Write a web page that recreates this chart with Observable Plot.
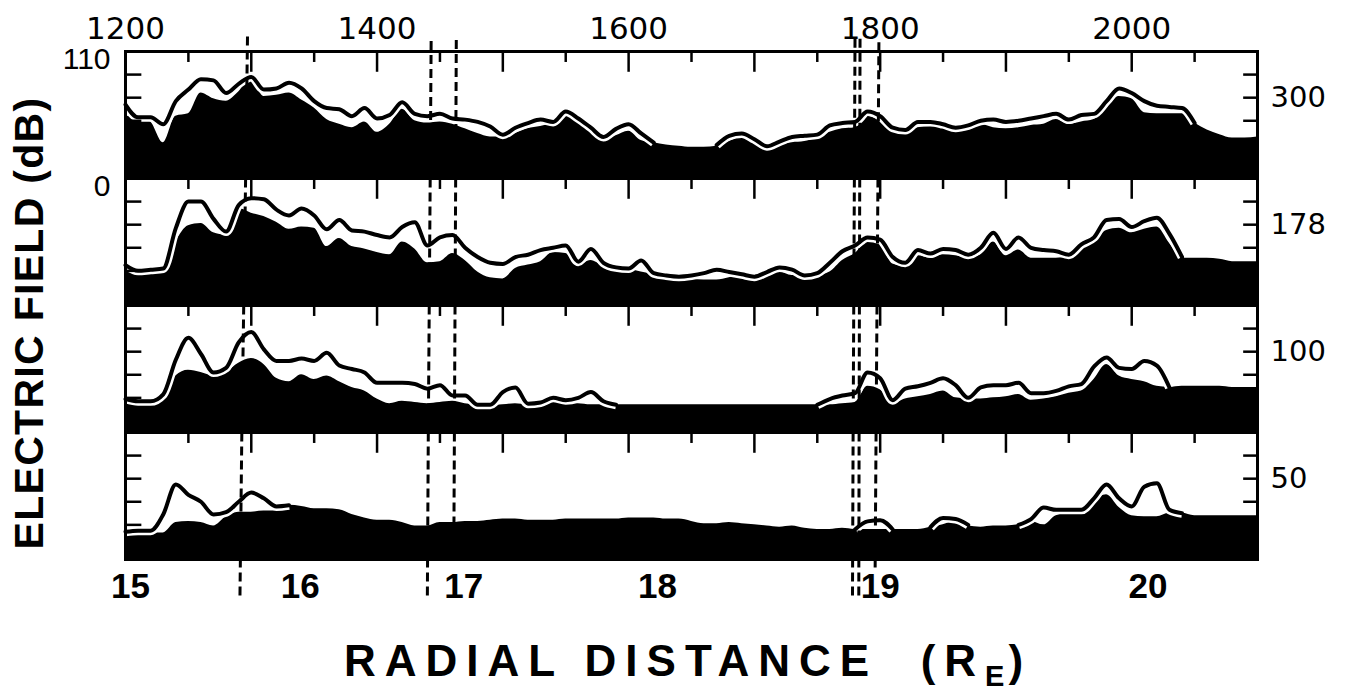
<!DOCTYPE html>
<html><head><meta charset="utf-8">
<script src="https://cdn.jsdelivr.net/npm/d3@7"></script>
<script src="https://cdn.jsdelivr.net/npm/@observablehq/plot@0.6"></script>
<style>
html,body{margin:0;padding:0;background:#fff;}
#wrap{position:relative;width:1345px;height:695px;overflow:hidden;background:#fff;}
#chart{position:absolute;left:0;top:0;}
#ytitle{position:absolute;left:29px;top:323px;transform:translate(-50%,-50%) rotate(-90deg);font:bold 41px "Liberation Sans",Arial,sans-serif;letter-spacing:1.3px;white-space:nowrap;}
#xtitle{position:absolute;left:688px;top:664px;transform:translate(-50%,-50%);font:bold 44px "Liberation Sans",Arial,sans-serif;white-space:nowrap;letter-spacing:9px;}
#xtitle sub{font-size:29px;letter-spacing:4px;vertical-align:-10px;}
</style></head>
<body><div id="wrap"><div id="chart"></div><div id="ytitle">ELECTRIC FIELD (dB)</div><div id="xtitle">RADIAL DISTANCE &nbsp;(R<sub>E</sub>)</div></div>
<script>
// time grid (top axis units)
const times = [1200,1210,1220,1230,1240,1250,1260,1270,1280,1290,1300,1310,1320,1330,1340,1350,1360,1370,1380,1390,
1400,1410,1420,1430,1440,1450,1460,1470,1480,1490,1500,1510,1520,1530,1540,1550,1560,1570,1580,1590,
1600,1610,1620,1630,1640,1650,1660,1670,1680,1690,1700,1710,1720,1730,1740,1750,1760,1770,1780,1790,
1800,1810,1820,1830,1840,1850,1860,1870,1880,1890,1900,1910,1920,1930,1940,1950,1960,1970,1980,1990,
2000,2010,2020,2030,2040,2050,2060,2070,2080,2090,2100];

const panels = ["300","178","100","50"];

// 300 Hz
const fill300 = [54,53,49,31,54,56,74,69,67,75,87,71,72,74,68,61,51,47,44,49,
40,47,60,50,48,49,47,43,39,36,36,39,43,45,48,54,49,41,33,37,
41,33,31,29,28,27,27,28,32,36,32,27,29,31,32,35,40,43,44,54,
50,43,40,44,45,44,42,43,47,44,43,44,46,47,51,47,49,51,61,71,
69,57,56,56,56,48,42,38,35,35,36];
const peak300 = [64,53,53,47,67,77,86,85,74,82,88,77,78,83,78,67,61,60,54,61,
52,55,66,56,54,56,52,51,49,45,38,44,48,51,49,58,52,44,36,43,
47,39,31,null,null,null,null,29,37,39,34,28,32,36,37,38,46,48,49,58,
54,44,42,49,49,47,44,46,50,51,49,50,52,54,56,51,55,56,67,78,
74,67,63,62,61,48,null,null,null,null,null];

// 178 Hz
const fill178 = [31,29,31,31,55,69,71,63,61,84,80,77,72,66,68,67,51,58,51,49,
46,44,55,49,37,38,45,39,29,24,23,32,35,38,46,45,35,39,34,31,
31,29,27,25,25,23,22,22,24,26,23,26,29,26,26,26,29,39,45,55,
53,36,34,43,41,44,43,41,44,55,43,48,41,41,41,42,50,55,65,67,
63,66,68,54,41,41,41,40,38,38,38];
const peak178 = [35,30,31,32,67,90,90,75,64,87,93,92,83,78,84,78,66,74,65,64,
61,59,68,72,52,59,61,50,42,37,36,42,44,48,50,52,38,49,37,33,
32,39,28,26,25,26,28,31,29,27,25,29,33,31,26,28,37,47,52,59,
57,42,37,48,45,49,48,44,50,63,49,59,50,48,47,44,53,59,74,75,
68,73,76,62,42,null,null,null,null,null,null];

// 100 Hz
const fill100 = [27,26,26,30,49,54,52,49,52,60,64,59,47,44,50,46,49,44,39,36,
29,25,27,26,25,26,27,25,24,23,24,25,24,24,27,25,25,24,24,24,
24,24,24,24,24,24,24,24,24,24,24,24,24,24,24,24,24,25,26,40,
37,25,29,31,33,36,30,29,29,30,31,33,28,29,31,34,36,46,59,49,
46,44,40,39,40,40,40,40,39,39,39];
const peak100 = [29,27,27,33,63,82,68,52,56,78,87,72,62,62,64,62,69,58,55,52,
43,43,43,42,38,41,32,32,24,24,35,39,25,26,30,28,30,35,27,24,
null,null,null,null,null,null,null,null,null,null,null,null,null,null,null,24,29,32,34,52,
47,28,38,40,43,47,41,30,39,41,41,43,34,34,36,40,42,57,65,56,
55,62,58,39,null,null,null,null,null,null,null];

// 50 Hz
const fill50 = [24,23,23,23,32,33,32,29,37,41,41,42,42,47,46,44,44,43,39,36,
34,34,32,29,29,32,32,33,33,34,35,35,34,34,34,35,35,35,35,35,
36,36,36,35,35,33,31,31,32,31,30,29,28,29,27,26,26,27,26,26,
26,26,26,26,28,30,34,29,28,29,29,30,33,30,38,40,41,51,56,45,
38,37,37,40,40,38,38,38,38,38,38];
const peak50 = [24,25,25,39,65,56,50,39,41,50,58,53,46,47,null,null,null,null,null,null,
null,null,null,null,null,null,null,null,null,null,null,null,null,null,null,null,null,null,null,null,
null,null,null,null,null,null,null,null,null,null,null,null,null,null,null,null,null,null,26,33,
34,26,null,null,28,36,35,30,null,null,null,30,35,45,43,43,43,53,65,53,
46,63,66,43,40,null,null,null,null,null,null];

const topLabels = [1200,1400,1600,1800,2000];
const frameTicks = [1250,1300,1350,1400,1450,1500,1550,1600,1650,1700,1750,1800,1850,1900,1950,2000,2050];
const distanceLabels = ["15","16","17","18","19","20"];
const distanceTimes = [1204,1339,1469,1623,1800,2013];
const dBTicks = [30,50,70,90];
const yLabels = [110, 0];
const dashTop = [1297,1443,1463,1780,1784,1799];
const dashBottom = [1291,1440,1461,1778,1783,1796];

const fills = [fill300, fill178, fill100, fill50];
const peaks = [peak300, peak178, peak100, peak50];
const rows = panels.flatMap((p, k) => times.map((t, i) => ({panel: p, t, fill: fills[k][i], peak: peaks[k][i]})));
const tickRows = panels.flatMap(p => frameTicks.map(t => ({panel: p, t, len: t % 100 === 0 ? 18 : 9.5})));
const sideRows = panels.flatMap(p => dBTicks.map(v => ({panel: p, v})));
const dashExtTop = [13, 9, 10, 11, 11, 8];
const dashExtBottom = [32, 32, 0, 32, 32, 8];
const dashRows = panels.flatMap((p, k) => dashTop.map((top, j) => ({
  panel: p,
  x1: top + (dashBottom[j] - top) * k / 4,
  x2: top + (dashBottom[j] - top) * (k + 1) / 4,
  y1: 110 + (k === 0 ? dashExtTop[j] : 0),
  y2: 0 - (k === 3 ? dashExtBottom[j] : 0)
})));
const distMap = new Map(distanceTimes.map((t, i) => [t, distanceLabels[i]]));
const curve = "monotone-x";

const chart = Plot.plot({
  width: 1345, height: 610,
  marginLeft: 125, marginRight: 88, marginTop: 50, marginBottom: 50,
  x: {domain: [1200, 2100], axis: null},
  y: {domain: [0, 110], axis: null},
  fy: {domain: panels, padding: 0, axis: null},
  style: {fontFamily: "DejaVu Sans", color: "black", background: "white", overflow: "visible"},
  marks: [
    Plot.areaY(rows, {x: "t", y: "fill", fy: "panel", fill: "black", curve}),
    Plot.line(rows, {x: "t", y: "peak", fy: "panel", stroke: "white", strokeWidth: 9, curve, strokeLinejoin: "round", strokeLinecap: "butt"}),
    Plot.line(rows, {x: "t", y: "peak", fy: "panel", stroke: "black", strokeWidth: 4, curve, strokeLinejoin: "round", strokeLinecap: "round"}),
    Plot.ruleX(tickRows, {x: "t", y1: 110, y2: d => 110 - d.len, fy: "panel", stroke: "black", strokeWidth: 2.5}),
    Plot.ruleY(sideRows, {y: "v", x1: 1200, x2: 1213, fy: "panel", stroke: "black", strokeWidth: 2.5}),
    Plot.ruleY(sideRows, {y: "v", x1: 2089, x2: 2100, fy: "panel", stroke: "black", strokeWidth: 2.5}),
    Plot.frame({stroke: "black", strokeWidth: 3}),
    Plot.link(dashRows, {x1: "x1", y1: "y1", x2: "x2", y2: "y2", fy: "panel", stroke: "black", strokeWidth: 3, strokeDasharray: "9,5"}),
    Plot.axisX(topLabels, {anchor: "top", tickSize: 0, tickPadding: 13, tickFormat: d3.format("d"), fontSize: 31}),
    Plot.axisX(distanceTimes, {anchor: "bottom", tickSize: 0, tickPadding: 14, tickFormat: d => distMap.get(d), fontSize: 35, fontFamily: "Liberation Sans", fontWeight: "bold"}),
    Plot.text(panels, {fy: d => d, text: d => d, y: 70, frameAnchor: "right", dx: 13, textAnchor: "start", fontSize: 29}),
    Plot.text(yLabels.map(v => ({panel: "300", v})), {fy: "panel", y: "v", text: d => String(d.v), frameAnchor: "left", dx: -15, dy: 8, textAnchor: "end", fontSize: 30, fontFamily: "Liberation Sans"})
  ]
});
document.getElementById("chart").appendChild(chart);
</script></body></html>
